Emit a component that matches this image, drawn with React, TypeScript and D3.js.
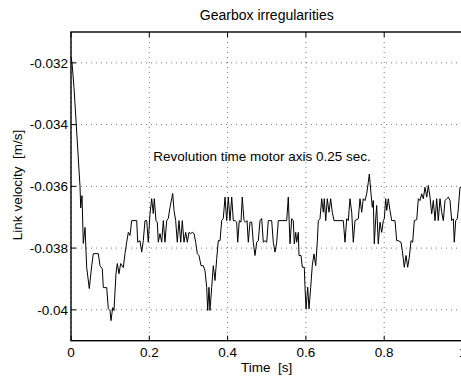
import React from "react";
import * as d3 from "d3";

// time samples [s]
const timeS = [
  0, 0.0026, 0.0077, 0.023, 0.0248, 0.0281, 0.0314, 0.0358, 0.0401, 0.0467, 0.0529, 0.057, 0.0697, 0.0741,
  0.08, 0.0825, 0.0912, 0.0953, 0.0996, 0.1022, 0.1065, 0.1098, 0.1149, 0.1183, 0.1226, 0.1269, 0.1336, 0.1379,
  0.1423, 0.1464, 0.1507, 0.155, 0.1678, 0.1704, 0.1762, 0.1806, 0.1847, 0.189, 0.1934, 0.1974, 0.2018, 0.2061,
  0.2102, 0.2128, 0.2171, 0.2204, 0.223, 0.2273, 0.2317, 0.2358, 0.2401, 0.2444, 0.2485, 0.2529, 0.2572, 0.2598,
  0.2631, 0.2674, 0.2715, 0.2759, 0.2802, 0.2843, 0.2886, 0.293, 0.2971, 0.3014, 0.3057, 0.3098, 0.3142, 0.3185,
  0.3226, 0.3269, 0.3321, 0.3379, 0.3423, 0.3466, 0.3492, 0.3525, 0.355, 0.3594, 0.3635, 0.3678, 0.3722, 0.3762,
  0.3806, 0.3849, 0.389, 0.3934, 0.3977, 0.4018, 0.4061, 0.4105, 0.4146, 0.4189, 0.4232, 0.4258, 0.4299, 0.4342,
  0.4375, 0.4419, 0.4462, 0.4496, 0.4529, 0.4572, 0.4616, 0.4656, 0.47, 0.4743, 0.4784, 0.4828, 0.4871, 0.4912,
  0.4955, 0.4999, 0.504, 0.5126, 0.5167, 0.5211, 0.5254, 0.5295, 0.551, 0.555, 0.5594, 0.5637, 0.5678, 0.5704,
  0.574, 0.5765, 0.5806, 0.5824, 0.5875, 0.5908, 0.5959, 0.5977, 0.6003, 0.6046, 0.6079, 0.6123, 0.6163, 0.6207,
  0.625, 0.6291, 0.6317, 0.636, 0.6404, 0.6445, 0.647, 0.6506, 0.6547, 0.659, 0.6633, 0.6674, 0.6718, 0.6955,
  0.6999, 0.7042, 0.7083, 0.7126, 0.717, 0.7211, 0.7254, 0.7338, 0.7382, 0.7425, 0.7466, 0.751, 0.7553, 0.7594,
  0.762, 0.7663, 0.7696, 0.7722, 0.7747, 0.7783, 0.7808, 0.7849, 0.7893, 0.7936, 0.7977, 0.8003, 0.8038, 0.8064,
  0.8105, 0.8148, 0.8192, 0.8276, 0.8319, 0.836, 0.8429, 0.8462, 0.8513, 0.8557, 0.86, 0.8641, 0.8685, 0.8728,
  0.8769, 0.8831, 0.8872, 0.8914, 0.8958, 0.8999, 0.9042, 0.9086, 0.9126, 0.917, 0.9213, 0.9254, 0.9298, 0.9341,
  0.9382, 0.9425, 0.9469, 0.951, 0.9553, 0.9596, 0.9637, 0.9681, 0.9724, 0.9765, 0.979, 0.9826, 0.9867, 0.9893,
  0.9936, 1.0,
];

// link velocity [m/s]
const linkVelocity = [
  -0.0318, -0.032, -0.0328, -0.036, -0.0367, -0.0363, -0.03785, -0.03733, -0.03863, -0.03931, -0.03857, -0.03818, -0.03818, -0.03857,
  -0.03867, -0.03928, -0.03928, -0.03996, -0.04002, -0.04035, -0.03993, -0.04002, -0.03883, -0.0385, -0.03883, -0.0385, -0.03863, -0.03818,
  -0.03781, -0.03749, -0.03759, -0.03711, -0.03711, -0.03781, -0.03776, -0.03813, -0.03776, -0.03711, -0.03711, -0.03781, -0.03688, -0.0364,
  -0.03688, -0.0364, -0.03711, -0.03716, -0.03781, -0.03753, -0.03781, -0.03711, -0.03781, -0.03711, -0.03704, -0.03668, -0.0364, -0.03623,
  -0.03678, -0.03711, -0.03781, -0.03711, -0.03781, -0.03711, -0.03781, -0.03749, -0.03781, -0.03749, -0.03753, -0.03749, -0.03753, -0.03781,
  -0.03818, -0.03824, -0.03857, -0.03857, -0.03873, -0.03927, -0.04002, -0.03927, -0.04002, -0.03927, -0.03857, -0.03905, -0.03834, -0.03776,
  -0.03776, -0.03711, -0.03704, -0.03635, -0.03711, -0.03635, -0.03711, -0.03635, -0.03711, -0.03711, -0.03716, -0.03781, -0.03711, -0.03716,
  -0.03635, -0.03711, -0.03716, -0.03711, -0.03781, -0.03716, -0.03716, -0.03781, -0.03824, -0.03781, -0.03776, -0.03711, -0.03704, -0.03781,
  -0.03776, -0.03781, -0.03711, -0.03711, -0.03781, -0.03813, -0.03781, -0.03711, -0.03711, -0.03635, -0.03786, -0.03705, -0.03711, -0.03786,
  -0.03749, -0.03781, -0.03749, -0.03824, -0.03824, -0.03862, -0.03862, -0.03927, -0.03997, -0.03927, -0.03997, -0.03927, -0.03857, -0.03819,
  -0.03857, -0.03781, -0.03711, -0.03705, -0.0364, -0.03684, -0.0364, -0.03711, -0.0364, -0.03684, -0.0364, -0.03684, -0.03711, -0.03711,
  -0.03781, -0.03705, -0.03711, -0.0364, -0.03684, -0.03781, -0.03711, -0.03705, -0.0364, -0.03684, -0.0364, -0.03646, -0.03624, -0.03587,
  -0.0356, -0.03624, -0.03668, -0.03646, -0.03786, -0.03705, -0.03662, -0.03786, -0.03716, -0.03749, -0.03711, -0.03705, -0.0364, -0.03678,
  -0.0364, -0.03678, -0.03711, -0.03711, -0.03776, -0.03776, -0.03781, -0.03808, -0.03862, -0.03824, -0.03862, -0.0383, -0.03776, -0.03781,
  -0.03711, -0.03708, -0.0364, -0.03646, -0.03624, -0.0364, -0.03603, -0.03635, -0.03597, -0.03635, -0.03689, -0.03646, -0.03711, -0.0364,
  -0.03711, -0.0364, -0.03684, -0.03711, -0.03646, -0.0364, -0.03635, -0.03646, -0.03711, -0.03705, -0.03781, -0.03711, -0.03705, -0.03673,
  -0.03603, -0.03603,
];

const xTicks = [0, 0.2, 0.4, 0.6, 0.8, 1];
const xTickLabels = ["0", "0.2", "0.4", "0.6", "0.8", "1"];
const yTicks = [-0.04, -0.038, -0.036, -0.034, -0.032];
const yTickLabels = ["-0.04", "-0.038", "-0.036", "-0.034", "-0.032"];

const FONT = "'Liberation Sans', Arial, Helvetica, sans-serif";

export default function App() {
  const width = 461;
  const height = 378;
  const left = 71, right = 462.5, top = 32, bottom = 340.7;

  const x = d3.scaleLinear().domain([0, 1]).range([left, right]);
  const y = d3.scaleLinear().domain([-0.041, -0.031]).range([bottom, top]);

  const n = Math.min(timeS.length, linkVelocity.length);
  const points: [number, number][] = [];
  for (let i = 0; i < n; i++) points.push([timeS[i], linkVelocity[i]]);

  const line = d3
    .line<[number, number]>()
    .x((d) => x(d[0]))
    .y((d) => y(d[1]));

  const tickLen = 5;

  return (
    <svg
      width={width}
      height={height}
      style={{ position: "absolute", left: 0, top: 0, background: "#fff" }}
      fontFamily={FONT}
    >
      <rect x={0} y={0} width={width} height={height} fill="#fff" />

      {/* grid */}
      {xTicks.map((t) => (
        <line key={"gx" + t} x1={x(t)} x2={x(t)} y1={top} y2={bottom}
          stroke="#555" strokeWidth={0.8} strokeDasharray="1,4" />
      ))}
      {yTicks.map((t) => (
        <line key={"gy" + t} x1={left} x2={right} y1={y(t)} y2={y(t)}
          stroke="#555" strokeWidth={0.8} strokeDasharray="1,4" />
      ))}

      {/* data */}
      <path d={line(points) || ""} fill="none" stroke="#000" strokeWidth={1} strokeLinejoin="miter" />

      {/* frame */}
      <rect x={left} y={top} width={right - left} height={bottom - top} fill="none" stroke="#000" strokeWidth={1.4} />

      {/* ticks */}
      {xTicks.map((t) => (
        <g key={"tx" + t}>
          <line x1={x(t)} x2={x(t)} y1={bottom} y2={bottom - tickLen} stroke="#000" strokeWidth={1} />
          <line x1={x(t)} x2={x(t)} y1={top} y2={top + tickLen} stroke="#000" strokeWidth={1} />
        </g>
      ))}
      {yTicks.map((t) => (
        <line key={"ty" + t} x1={left} x2={left + tickLen} y1={y(t)} y2={y(t)} stroke="#000" strokeWidth={1} />
      ))}

      {/* tick labels */}
      {xTicks.map((t, i) => (
        <text key={"lx" + t} x={x(t)} y={357} textAnchor="middle" fontSize={13.5} fill="#000">
          {xTickLabels[i]}
        </text>
      ))}
      {yTicks.map((t, i) => (
        <text key={"ly" + t} x={68} y={y(t) + 4.8} textAnchor="end" fontSize={13.5} fill="#000">
          {yTickLabels[i]}
        </text>
      ))}

      {/* titles */}
      <text x={(left + right) / 2} y={20} textAnchor="middle" fontSize={14} fill="#000">
        Gearbox irregularities
      </text>
      <text x={(left + right) / 2} y={372} textAnchor="middle" fontSize={13.5} fill="#000" style={{ whiteSpace: "pre" }}>
        {"Time  [s]"}
      </text>
      <text transform={`translate(22.3,185) rotate(-90)`} textAnchor="middle" fontSize={13.5} fill="#000" style={{ whiteSpace: "pre" }}>
        {"Link velocity  [m/s]"}
      </text>

      {/* annotation */}
      <text x={x(0.21)} y={160.7} fontSize={13.5} fill="#000">
        Revolution time motor axis 0.25 sec.
      </text>
    </svg>
  );
}
